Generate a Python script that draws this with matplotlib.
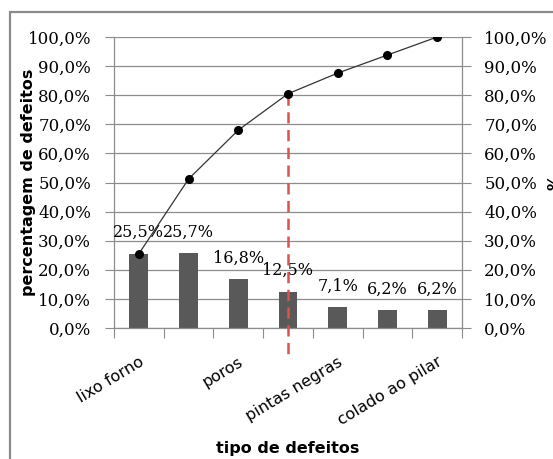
import matplotlib
matplotlib.use("Agg")
import matplotlib.pyplot as plt
from matplotlib.patches import Rectangle
from matplotlib.ticker import FuncFormatter, MultipleLocator
import numpy as np

categories = ["lixo forno", "trincas", "poros", "pintas negras", "bolhas",
              "cantos", "colado ao pilar"]
shown_labels = ["lixo forno", "", "poros", "", "pintas negras", "", "colado ao pilar"]
pct = [25.5, 25.7, 16.8, 12.5, 7.1, 6.2, 6.2]
cum_pct = [25.5, 51.2, 68.0, 80.5, 87.6, 93.8, 100.0]
cut_index = 3  # the 80% point of the Pareto curve

BAR_COLOR = "#595959"
GRID_COLOR = "#8c8c8c"
SERIF = "DejaVu Serif"
SANS = "DejaVu Sans"


def pct_fmt(v, _pos=None):
    return f"{v:.1f}%".replace(".", ",")


fig = plt.figure(figsize=(5.53, 4.59), dpi=100)
# partial outer frame of the chart area
fig.patches.append(Rectangle((10 / 553, -0.1), 1.2, 1 - 12 / 459 + 0.1,
                             transform=fig.transFigure, fill=False,
                             edgecolor="#8a8a8a", linewidth=1.6))

ax = fig.add_axes([114 / 553, 1 - 328 / 459, 348 / 553, 291 / 459])
x = np.arange(len(categories))
ax.bar(x, pct, width=0.38, color=BAR_COLOR, zorder=2)
for xi, v in zip(x, pct):
    ax.text(xi, v + 4.3, pct_fmt(v), ha="center", va="bottom",
            fontsize=11.5, family=SERIF, zorder=4)

ax.set_xlim(-0.5, len(categories) - 0.5)
ax.set_ylim(0, 100)
ax.yaxis.set_major_locator(MultipleLocator(10))
ax.yaxis.set_major_formatter(FuncFormatter(pct_fmt))
ax.grid(axis="y", color=GRID_COLOR, linewidth=0.9, zorder=0)
ax.set_axisbelow(True)
ax.spines["top"].set_visible(False)
for side in ("left", "right", "bottom"):
    ax.spines[side].set_color(GRID_COLOR)
    ax.spines[side].set_linewidth(0.9)

ax.set_xticks(np.arange(len(categories) + 1) - 0.5)
ax.set_xticklabels([])
ax.set_xticks(x, minor=True)
ax.set_xticklabels(shown_labels, minor=True, rotation=31, ha="right",
                   rotation_mode="anchor", fontsize=11.5, family=SANS)
ax.tick_params(axis="x", which="major", length=7, color=GRID_COLOR, direction="out")
ax.tick_params(axis="x", which="minor", length=0, pad=19)
ax.tick_params(axis="y", length=6.5, color=GRID_COLOR, pad=10, labelsize=12)
for lbl in ax.get_yticklabels():
    lbl.set_family(SERIF)

ax.set_ylabel("percentagem de defeitos", fontsize=11.5, fontweight="bold",
              family=SANS)
ax.yaxis.set_label_coords(-0.225, 0.5)
ax.set_xlabel("tipo de defeitos", fontsize=11.5, fontweight="bold", family=SANS)
ax.xaxis.set_label_coords(0.5, -0.39)

# cumulative curve on the secondary axis
ax2 = ax.twinx()
ax2.set_ylim(0, 100)
ax2.plot(x, cum_pct, color="#333333", linewidth=0.9, marker="o",
         markersize=5.5, markerfacecolor="black", markeredgecolor="black",
         zorder=3)
ax2.plot([x[cut_index], x[cut_index]], [cum_pct[cut_index], -9.5],
         color="#d9534f", linewidth=1.8, dashes=(4.5, 2.6), clip_on=False,
         zorder=2)
ax2.yaxis.set_major_locator(MultipleLocator(10))
ax2.yaxis.set_major_formatter(FuncFormatter(pct_fmt))
ax2.tick_params(axis="y", length=6.5, color=GRID_COLOR, pad=9.5, labelsize=12)
for lbl in ax2.get_yticklabels():
    lbl.set_family(SERIF)
for side in ax2.spines.values():
    side.set_visible(False)
ax2.set_ylabel("%", fontsize=11.5, fontweight="bold", family=SANS)
ax2.yaxis.set_label_coords(1.245, 0.5)

fig.savefig("out.png", dpi=100)
